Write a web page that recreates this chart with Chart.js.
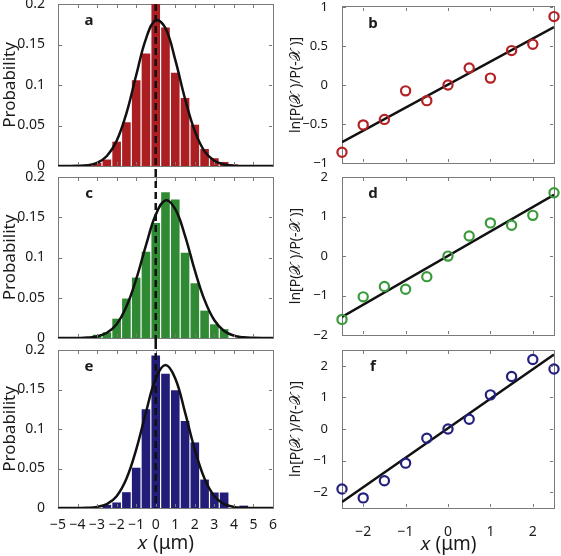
<!DOCTYPE html>
<html>
<head>
<meta charset="utf-8">
<script src="https://cdn.jsdelivr.net/npm/chart.js@4.4.1/dist/chart.umd.min.js"></script>
<style>
  body { margin: 0; background: #fff; }
  #fig { position: relative; width: 561px; height: 556px; }
  canvas { position: absolute; }
</style>
</head>
<body>
<div id="fig">
  <canvas id="pa" width="280" height="170" style="left:0;top:0"></canvas>
  <canvas id="pc" width="280" height="172" style="left:0;top:170px"></canvas>
  <canvas id="pe" width="280" height="214" style="left:0;top:342px"></canvas>
  <canvas id="pb" width="281" height="170" style="left:280px;top:0"></canvas>
  <canvas id="pd" width="281" height="172" style="left:280px;top:170px"></canvas>
  <canvas id="pf" width="281" height="214" style="left:280px;top:342px"></canvas>
</div>
<script>
/* Displacement histograms (a, c, e) and log-ratio plots (b, d, f) */

// histogram bins (um) and probabilities
const binX  = [-3.5, -3, -2.5, -2, -1.5, -1, -0.5, 0, 0.5, 1, 1.5, 2, 2.5, 3, 3.5, 4, 4.5];
const probA = [0.001, 0.004, 0.008, 0.030, 0.054, 0.106, 0.139, 0.200, 0.171, 0.115, 0.084, 0.051, 0.021, 0.0096, 0.005, 0.002, 0.0005];
const probC = [0, 0.004, 0.007, 0.024, 0.049, 0.075, 0.107, 0.143, 0.181, 0.172, 0.106, 0.068, 0.034, 0.017, 0.011, 0, 0];
const probE = [0.001, 0, 0.004, 0.007, 0.020, 0.051, 0.125, 0.193, 0.170, 0.149, 0.110, 0.083, 0.036, 0.0196, 0.0196, 0, 0.003];

// gaussian fit curves
const curveX = [-5, -4.5, -4, -3.5, -3, -2.5, -2, -1.5, -1, -0.5, 0, 0.5, 1, 1.5, 2, 2.5, 3, 3.5, 4, 4.5, 5, 5.5, 6];
const curveA = [0, 0, 0.0002, 0.001, 0.0039, 0.0123, 0.031, 0.065, 0.112, 0.157, 0.180, 0.170, 0.131, 0.083, 0.043, 0.018, 0.0064, 0.0018, 0.0004, 0.0001, 0, 0, 0];
const curveC = [0, 0, 0.0001, 0.0005, 0.002, 0.0065, 0.017, 0.039, 0.073, 0.115, 0.153, 0.171, 0.160, 0.127, 0.084, 0.047, 0.022, 0.0087, 0.0029, 0.0008, 0.0002, 0, 0];
const curveE = [0, 0, 0.0001, 0.0003, 0.0014, 0.005, 0.015, 0.037, 0.074, 0.121, 0.164, 0.181, 0.164, 0.121, 0.074, 0.037, 0.015, 0.005, 0.0014, 0.0003, 0.0001, 0, 0];

// ln[P(x)/P(-x)] points and linear fits
const lnX  = [-2.5, -2, -1.5, -1, -0.5, 0, 0.5, 1, 1.5, 2, 2.5];
const lnB  = [-0.86, -0.51, -0.44, -0.075, -0.2, 0, 0.217, 0.088, 0.44, 0.52, 0.875];
const lnD  = [-1.6, -1.03, -0.77, -0.84, -0.52, 0, 0.51, 0.84, 0.78, 1.03, 1.6];
const lnF  = [-1.9, -2.18, -1.64, -1.08, -0.29, 0, 0.31, 1.08, 1.66, 2.2, 1.9];
const fitX = [-2.5, 2.5];
const fitB = [-0.73, 0.74];
const fitD = [-1.54, 1.55];
const fitF = [-2.31, 2.36];

// ticks
const histXTicks = [-5, -4, -3, -2, -1, 0, 1, 2, 3, 4, 5, 6];
const probTicks = [0, 0.05, 0.1, 0.15, 0.2];
const probTickLabels = ['0', '0.05', '0.1', '0.15', '0.2'];
const lnXTicks = [-2, -1, 0, 1, 2];
const lnTicksB = [-1, -0.5, 0, 0.5, 1];
const lnTicksD = [-2, -1, 0, 1, 2];
const lnTicksF = [-2, -1, 0, 1, 2];

const FONT = "'Noto Sans', 'DejaVu Sans', sans-serif";
const INK = '#1a1a1a';
const AXIS = '#7a7a7a';
Chart.defaults.font.family = FONT;
Chart.defaults.color = INK;

function zip(xs, ys) { return xs.map((x, i) => ({ x: x, y: ys[i] })); }
function minus(v) { return String(v).replace('-', '\u2212'); }

// inward tick marks, panel letter, and (left column) the dashed x = 0 line
const framePlugin = {
  id: 'frame',
  afterDraw(chart, args, o) {
    const { ctx, chartArea: a, scales: { x, y } } = chart;
    const L = Math.round(a.left), R = Math.round(a.right) - 1;
    const T = Math.round(a.top), B = Math.round(a.bottom) - 1;
    ctx.save();
    ctx.fillStyle = AXIS;
    x.ticks.forEach(t => {
      const px = Math.round(x.getPixelForValue(t.value));
      ctx.fillRect(px, B - 3, 1, 3);
      ctx.fillRect(px, T + 1, 1, 3);
    });
    y.ticks.forEach(t => {
      const py = Math.round(y.getPixelForValue(t.value));
      ctx.fillRect(L + 1, py, 3, 1);
      ctx.fillRect(R - 3, py, 3, 1);
    });
    if (o.dash) {
      const px = x.getPixelForValue(0);
      ctx.strokeStyle = '#111';
      ctx.lineWidth = 2.5;
      ctx.setLineDash([7, 4]);
      ctx.beginPath();
      ctx.moveTo(px, o.dash.top ? 0 : a.top);
      ctx.lineTo(px, o.dash.bottom ? chart.height : a.bottom);
      ctx.stroke();
    }
    ctx.fillStyle = INK;
    ctx.font = "bold 15px " + FONT;
    ctx.textAlign = 'center';
    ctx.textBaseline = 'middle';
    ctx.fillText(o.letter, a.left + 31, a.top + 17);
    ctx.restore();
  }
};

// top and right edges of the box as empty mirror axes
function mirrorAxes(xMin, xMax, yMin, yMax) {
  const base = {
    type: 'linear', grid: { display: false }, ticks: { display: false },
    border: { display: true, color: AXIS, width: 1 }
  };
  return {
    x2: Object.assign({}, base, { position: 'top', min: xMin, max: xMax,
      afterFit: s => { s.height = 0; s.paddingLeft = 0; s.paddingRight = 0; } }),
    y2: Object.assign({}, base, { position: 'right', min: yMin, max: yMax,
      afterFit: s => { s.width = 0; s.paddingTop = 0; s.paddingBottom = 0; } })
  };
}

function histChart(id, probs, curve, color, letter, pos) {
  const last = pos === 'bottom';
  return new Chart(document.getElementById(id), {
    type: 'bar',
    data: {
      datasets: [
        { type: 'bar', data: zip(binX, probs), backgroundColor: color, borderWidth: 0,
          barPercentage: 0.88, categoryPercentage: 1, order: 2 },
        { type: 'line', data: zip(curveX, curve), borderColor: '#111', borderWidth: 2.5,
          pointRadius: 0, tension: 0.4, order: 1 }
      ]
    },
    options: {
      responsive: false, animation: false, events: [],
      layout: { padding: { top: pos === 'top' ? 4 : (pos === 'mid' ? 7 : 8), right: 7 } },
      plugins: {
        legend: { display: false }, tooltip: { enabled: false },
        frame: { letter: letter, dash: { top: pos !== 'top', bottom: !last } }
      },
      scales: Object.assign({
        x: {
          type: 'linear', min: -5, max: 6, offset: false,
          grid: { display: false }, border: { display: true, color: AXIS, width: 1 },
          afterBuildTicks: s => { s.ticks = histXTicks.map(v => ({ value: v })); },
          ticks: { display: last, padding: 1, font: { size: 14 }, maxRotation: 0, autoSkip: false, callback: v => minus(v) },
          title: { display: last, text: '\u{1D465} (\u03BCm)', font: { size: 19 }, padding: { top: 0, bottom: 1 } },
          afterFit: s => { s.height = last ? 48 : 4; s.paddingLeft = 0; s.paddingRight = 0; }
        },
        y: {
          min: 0, max: 0.2,
          grid: { display: false }, border: { display: true, color: AXIS, width: 1 },
          afterBuildTicks: s => { s.ticks = probTicks.map(v => ({ value: v })); },
          ticks: { padding: 5, font: { size: 14 }, callback: (v, i) => probTickLabels[i] },
          title: { display: true, text: 'Probability', font: { size: 17 }, padding: 0 },
          afterFit: s => { s.width = 58; s.paddingTop = 0; s.paddingBottom = 0; }
        }
      }, mirrorAxes(-5, 6, 0, 0.2))
    },
    plugins: [framePlugin]
  });
}

function lnChart(id, vals, fit, color, letter, yMin, yMax, yTicks, pos) {
  const last = pos === 'bottom';
  return new Chart(document.getElementById(id), {
    type: 'scatter',
    data: {
      datasets: [
        { type: 'line', data: zip(fitX, fit), borderColor: '#111', borderWidth: 2.5,
          pointRadius: 0, order: 2 },
        { type: 'scatter', data: zip(lnX, vals), pointStyle: 'circle', pointRadius: 4.6,
          pointBorderWidth: 2.2, borderColor: color, backgroundColor: 'rgba(0,0,0,0)',
          clip: false, order: 1 }
      ]
    },
    options: {
      responsive: false, animation: false, events: [],
      layout: { padding: { top: pos === 'top' ? 4 : (pos === 'mid' ? 7 : 8), right: 7 } },
      plugins: {
        legend: { display: false }, tooltip: { enabled: false },
        frame: { letter: letter, dash: null }
      },
      scales: Object.assign({
        x: {
          type: 'linear', min: -2.5, max: 2.5,
          grid: { display: false }, border: { display: true, color: AXIS, width: 1 },
          afterBuildTicks: s => { s.ticks = lnXTicks.map(v => ({ value: v })); },
          ticks: { display: last, padding: 8, font: { size: 14 }, callback: v => minus(v) },
          title: { display: last, text: '\u{1D465} (\u03BCm)', font: { size: 19 }, padding: { top: 0, bottom: 0 } },
          afterFit: s => { s.height = last ? 48 : 4; s.paddingLeft = 0; s.paddingRight = 0; }
        },
        y: {
          min: yMin, max: yMax,
          grid: { display: false }, border: { display: true, color: AXIS, width: 1 },
          afterBuildTicks: s => { s.ticks = yTicks.map(v => ({ value: v })); },
          ticks: { padding: 6, font: { size: 13 }, callback: v => minus(v) },
          title: { display: true, text: 'ln[P(\u{1D4B3} )/P(-\u{1D4B3} )]', font: { size: 14 }, padding: { top: 8, bottom: 0 } },
          afterFit: s => { s.width = 62; s.paddingTop = 0; s.paddingBottom = 0; }
        }
      }, mirrorAxes(-2.5, 2.5, yMin, yMax))
    },
    plugins: [framePlugin]
  });
}

histChart('pa', probA, curveA, '#ab1f22', 'a', 'top');
histChart('pc', probC, curveC, '#2f8a33', 'c', 'mid');
histChart('pe', probE, curveE, '#211d78', 'e', 'bottom');
lnChart('pb', lnB, fitB, '#b42024', 'b', -1, 1, lnTicksB, 'top');
lnChart('pd', lnD, fitD, '#3a9a3c', 'd', -2, 2, lnTicksD, 'mid');
lnChart('pf', lnF, fitF, '#23207e', 'f', -2.5, 2.5, lnTicksF, 'bottom');
</script>
</body>
</html>
